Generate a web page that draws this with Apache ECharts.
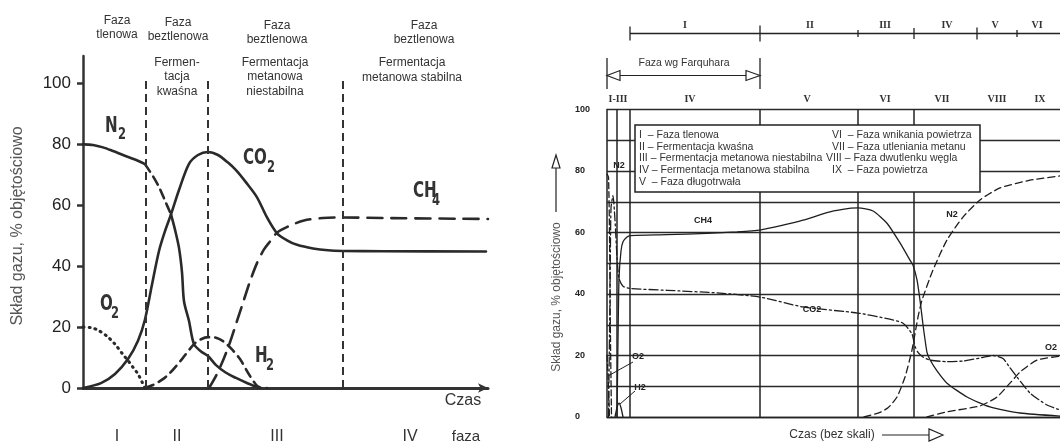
<!DOCTYPE html>
<html>
<head>
<meta charset="utf-8">
<script src="https://cdn.jsdelivr.net/npm/echarts@6/dist/echarts.min.js"></script>
<style>
  html, body { margin: 0; padding: 0; background: #fff; }
  #chart { width: 1060px; height: 445px; }
</style>
</head>
<body>
<div id="chart"></div>
<script>
// ===== lewy wykres (czas w jednostkach umownych) =====
var leftPhases = ["I", "II", "III", "IV"];
var leftBounds = [63, 125, 260];
var leftYTicks = [0, 20, 40, 60, 80, 100];
var leftTopLabels = ["Faza\ntlenowa", "Faza\nbeztlenowa", "Faza\nbeztlenowa", "Faza\nbeztlenowa"];
var leftSubLabels = ["Fermen-\ntacja\nkwaśna", "Fermentacja\nmetanowa\nniestabilna", "Fermentacja\nmetanowa stabilna"];

var n2A = [[0, 80], [10, 79.8], [20, 79], [30, 77.8], [40, 76.5], [52, 75], [62, 73.5]];
var n2B = [[62, 73.5], [70, 69.5], [76, 66], [82, 61.5], [88, 57]];
var n2C = [[88, 57], [92, 52], [96, 46], [99, 38], [101, 28.5], [106, 22], [111, 14.4], [118, 12],
  [125, 10.5], [133, 7.5], [143, 5], [153, 3.3], [165, 1.5], [177, 0]];
var co2L = [[0, 0], [18, 1.6], [32, 4.6], [45, 9.5], [55, 15.5], [62, 22.5], [69, 34], [76, 45], [82, 51.5],
  [88, 57], [96, 65], [106, 73.6], [115, 76.5], [125, 77.5], [135, 76.5], [145, 74], [153, 71.5],
  [163, 67.5], [174, 62.6], [184, 56], [194, 50.8], [204, 48.5], [214, 47], [230, 45.8], [245, 45.2],
  [260, 45], [300, 44.9], [403, 44.8]];
var ch4L = [[126, 0], [133, 4], [140, 9], [147, 15], [153, 21], [160, 28], [167, 35], [174, 41],
  [181, 45.5], [188, 48.5], [194, 51], [205, 53], [221, 55], [240, 55.8], [260, 56], [300, 55.8], [405, 55.5]];
var h2L = [[62, 0], [70, 1], [78, 2.5], [86, 4.6], [99, 9.5], [111, 14.4], [118, 16], [125, 16.7],
  [133, 16.5], [140, 15.4], [148, 13], [157, 9.5], [165, 5], [172, 1.5], [176, 0.3], [184, 0]];
var o2L = [[0, 20], [8, 19.8], [15, 19], [24, 17], [32, 14.4], [40, 11], [45, 9], [50, 6.8],
  [55, 4.6], [59, 2], [62, 0]];

// ===== prawy wykres (czas bez skali) =====
var rightBounds = [10, 23, 153, 251, 307];
var rightTopTicks = [23, 153, 251, 307, 370, 410];
var rightTopPhases = ["I", "II", "III", "IV", "V", "VI"];
var rightRowPhases = ["I-III", "IV", "V", "VI", "VII", "VIII", "IX"];
var legendLeft = ["I  – Faza tlenowa", "II – Fermentacja kwaśna", "III – Fermentacja metanowa niestabilna",
  "IV – Fermentacja metanowa stabilna", "V  – Faza długotrwała"];
var legendRight = ["VI  – Faza wnikania powietrza", "VII – Faza utleniania metanu",
  "VIII – Faza dwutlenku węgla", "IX  – Faza powietrza"];

var ch4R = [[10, 0], [11, 25], [12, 45], [14, 54], [16, 57], [20, 58.5], [23, 59], [60, 59.3], [100, 59.7],
  [130, 60.2], [153, 60.8], [175, 62.3], [196, 64], [223, 66.7], [244, 67.9], [251, 68], [266, 67],
  [280, 63], [293, 56.6], [303, 51], [306, 49.4], [310, 44.6], [313, 38], [316, 30], [320, 21],
  [323, 18.6], [330, 15], [340, 11], [360, 6.5], [383, 3.3], [413, 1.3], [453, 0.3]];
var co2R = [[1.5, 0], [3, 40], [4, 68], [6, 72], [8, 64], [10, 52], [12, 45], [16, 42.5], [23, 41.8],
  [60, 41.2], [113, 40.3], [153, 39], [196, 35.8], [251, 33.8], [280, 32], [296, 30.5], [305, 27],
  [308, 23], [311, 21], [316, 19.5], [323, 18.5], [340, 18], [356, 18.2], [375, 19.3], [386, 20],
  [396, 19], [403, 16], [410, 13], [423, 7.8], [440, 3.9], [453, 2.3]];
var n2R1 = [[0, 79], [1.5, 78], [2.5, 60], [3.5, 25], [4.5, 0]];
var n2R2 = [[257, 0], [273, 1.5], [281, 3], [290, 6.5], [298, 13], [305, 21.8], [311, 32.5], [315, 38],
  [326, 47.8], [340, 57.6], [356, 65], [373, 70.6], [393, 74.5], [423, 77], [453, 78.4]];
var o2R1 = [[0, 20], [1, 14], [2.5, 0]];
var o2R2 = [[320, 0], [340, 1.7], [373, 3.6], [390, 6.5], [403, 11], [413, 14.6], [430, 18.5], [453, 19.8]];
var h2R = [[8, 0], [10, 3], [12, 4.5], [14, 3], [16, 0]];

var SANS = "'Liberation Sans', Arial, sans-serif";
var NARROW = "'Liberation Sans Narrow', 'DejaVu Sans Condensed', sans-serif";
var SERIF = "'Liberation Serif', 'DejaVu Serif', serif";

function curve(idx, data, width, dash, color, smooth) {
  return {
    type: "line", xAxisIndex: idx, yAxisIndex: idx, data: data, symbol: "none",
    smooth: smooth === undefined ? 0.3 : smooth, silent: true, z: 3,
    lineStyle: { color: color || "#2a2a2a", width: width, type: dash || "solid", cap: "round" }
  };
}

function vlines(idx, xs, top, width, dash, color) {
  return {
    type: "line", xAxisIndex: idx, yAxisIndex: idx, data: [], silent: true,
    markLine: {
      silent: true, symbol: "none", animation: false, label: { show: false },
      lineStyle: { color: color, width: width, type: dash },
      data: xs.map(function (x) { return [{ coord: [x, 0] }, { coord: [x, top] }]; })
    }
  };
}

function txt(x, y, text, font, opts) {
  return {
    type: "text", x: x, y: y, silent: true,
    style: Object.assign({ text: text, font: font, fill: "#222", align: "center", verticalAlign: "middle" }, opts || {})
  };
}
function seg(x1, y1, x2, y2, w, color) {
  return { type: "line", silent: true, shape: { x1: x1, y1: y1, x2: x2, y2: y2 },
    style: { stroke: color || "#222", lineWidth: w || 1.2 } };
}
function tri(points) {
  return { type: "polygon", silent: true, shape: { points: points },
    style: { fill: "#fff", stroke: "#222", lineWidth: 1.2 } };
}

var graphics = [];
// lewy: napisy u góry
var topX = [117, 178, 277, 424], topY = [28, 30, 32.5, 32.5];
leftTopLabels.forEach(function (t, i) {
  graphics.push(txt(topX[i], topY[i], t, "12px " + SANS, { lineHeight: 14, fill: "#333" }));
});
var subX = [177, 275, 412], subY = [77, 77, 70];
leftSubLabels.forEach(function (t, i) {
  graphics.push(txt(subX[i], subY[i], t, "12px " + SANS, { lineHeight: 14.5, fill: "#333" }));
});
// lewy: fazy pod osią
var phX = [117, 177, 277, 410];
leftPhases.forEach(function (t, i) { graphics.push(txt(phX[i], 437, t, "16px " + SANS, { fill: "#333" })); });
graphics.push(txt(466, 437, "faza", "15px " + SANS, { fill: "#333" }));
graphics.push(txt(463, 401, "Czas", "16px " + SANS, { fill: "#333" }));
graphics.push(Object.assign(txt(18, 226, "Skład gazu, % objętościowo", "16px " + SANS, { fill: "#555" }), { rotation: Math.PI / 2 }));
// lewy: nazwy gazów (waskie, pogrubione)
var gasMain = [["N", 105, 127], ["CO", 243, 159], ["CH", 413, 192], ["O", 100, 305], ["H", 255, 357]];
var gasSub = [["2", 118, 135], ["2", 267, 168], ["4", 432, 201], ["2", 111, 314], ["2", 266, 366]];
gasMain.forEach(function (g) {
  graphics.push(Object.assign(txt(g[1], g[2], g[0], "bold 21px " + NARROW, { align: "left", fill: "#333" }), { scaleX: 0.8 }));
});
gasSub.forEach(function (g) {
  graphics.push(Object.assign(txt(g[1], g[2], g[0], "bold 16px " + NARROW, { align: "left", fill: "#333" }), { scaleX: 0.8 }));
});

// prawy: pasek faz u góry
graphics.push(seg(630, 33.5, 1060, 33.5, 1.3));
var tickH = [7, 8, 3.5, 5.5, 6, 3.5];
rightTopTicks.forEach(function (t, i) { graphics.push(seg(607 + t, 33.5 - tickH[i], 607 + t, 33.5 + tickH[i], 1.3)); });
var rtX = [685, 810, 885, 947, 995, 1037];
rightTopPhases.forEach(function (t, i) { graphics.push(txt(rtX[i], 25, t, "bold 10px " + SERIF, { fill: "#333" })); });
// Faza wg Farquhara
graphics.push(seg(607, 58, 607, 89, 1.3), seg(760, 58, 760, 89, 1.3), seg(620, 75.5, 746, 75.5, 1.2));
graphics.push(tri([[607, 75.5], [620, 70.5], [620, 80.5]]), tri([[760, 75.5], [746, 70.5], [746, 80.5]]));
graphics.push(txt(684, 63, "Faza wg Farquhara", "10.5px " + SANS, { fill: "#333" }));
var rrX = [618, 690, 807, 885, 942, 997, 1040];
rightRowPhases.forEach(function (t, i) { graphics.push(txt(rrX[i], 99, t, "bold 10px " + SERIF, { fill: "#333" })); });
// legenda w ramce
graphics.push({ type: "rect", silent: true, z: 100, shape: { x: 635, y: 125, width: 345, height: 67 },
  style: { fill: "#fff", stroke: "#222", lineWidth: 1.5 } });
legendLeft.forEach(function (t, i) {
  var e = txt(639, 135 + i * 11.7, t, "10.5px " + SANS, { align: "left", fill: "#333" }); e.z = 101; graphics.push(e);
});
var lrX = [832, 832, 826, 832];
legendRight.forEach(function (t, i) {
  var e = txt(lrX[i], 135 + i * 11.7, t, "10.5px " + SANS, { align: "left", fill: "#333" }); e.z = 101; graphics.push(e);
});
// prawy: tytuły osi ze strzałkami
graphics.push(Object.assign(txt(557, 297, "Skład gazu, % objętościowo", "12px " + SANS, { fill: "#555" }), { rotation: Math.PI / 2 }));
graphics.push(seg(556, 212, 556, 168, 1.2), tri([[556, 155], [552, 168], [560, 168]]));
graphics.push(txt(832, 435, "Czas (bez skali)", "12px " + SANS, { fill: "#333" }));
graphics.push(seg(882, 435, 929, 435, 1.2), tri([[943, 435], [929, 429], [929, 441]]));
// prawy: nazwy gazów
var rLab = [["N2", 619, 166], ["CH4", 703, 221], ["CO2", 812, 310], ["N2", 952, 215], ["O2", 1051, 348], ["O2", 638, 357], ["H2", 640, 388]];
rLab.forEach(function (g) { graphics.push(txt(g[1], g[2], g[0], "bold 9px " + SANS, { fill: "#222" })); });
graphics.push(seg(633, 362, 608, 376, 1), seg(635, 391, 620, 404, 1));

var chart = echarts.init(document.getElementById("chart"));
chart.setOption({
  animation: false,
  backgroundColor: "#fff",
  grid: [
    { left: 83, top: 56, width: 405, height: 332 },
    { left: 607, top: 109.5, width: 453, height: 307.5 }
  ],
  xAxis: [
    { gridIndex: 0, type: "value", min: 0, max: 405,
      axisLine: { show: true, symbol: ["none", "arrow"], symbolSize: [7, 10], lineStyle: { color: "#333", width: 3 } },
      axisTick: { show: false }, axisLabel: { show: false }, splitLine: { show: false } },
    { gridIndex: 1, type: "value", min: 0, max: 453,
      axisLine: { show: true, lineStyle: { color: "#222", width: 1.4 } },
      axisTick: { show: false }, axisLabel: { show: false }, splitLine: { show: false } }
  ],
  yAxis: [
    { gridIndex: 0, type: "value", min: 0, max: 109,
      axisLine: { show: true, lineStyle: { color: "#333", width: 2.5 } },
      axisTick: { show: true, length: 6, customValues: leftYTicks, lineStyle: { color: "#333", width: 2.5 } },
      axisLabel: { customValues: leftYTicks, margin: 12, color: "#222", fontSize: 17, fontFamily: SANS },
      splitLine: { show: false } },
    { gridIndex: 1, type: "value", min: 0, max: 100, interval: 10,
      axisLine: { show: true, lineStyle: { color: "#222", width: 1.5 } },
      axisTick: { show: false },
      axisLabel: { align: "left", margin: 32, color: "#222", fontSize: 9, fontWeight: "bold", fontFamily: SANS,
        formatter: function (v) { return v % 20 === 0 ? String(v) : ""; } },
      splitLine: { show: true, lineStyle: { color: "#2a2a2a", width: 1.3 } } }
  ],
  series: [
    vlines(0, leftBounds, 101, 2, [8, 5], "#333"),
    curve(0, n2A, 2.6),
    curve(0, n2B, 2.6, [9, 6]),
    curve(0, n2C, 2.6),
    curve(0, co2L, 2.6),
    curve(0, ch4L, 2.6, [15, 9]),
    curve(0, h2L, 2.6, [9, 6]),
    curve(0, o2L, 3, [1, 5]),
    vlines(1, rightBounds, 100, 1.5, "solid", "#222"),
    curve(1, ch4R, 1.3, "solid", "#1e1e1e", 0.2),
    curve(1, co2R, 1.3, [9, 3, 2, 3], "#1e1e1e", 0.2),
    curve(1, n2R1, 1.3, [6, 3], "#1e1e1e", 0.2),
    curve(1, n2R2, 1.3, [7, 4], "#1e1e1e", 0.2),
    curve(1, o2R1, 1.3, [6, 3], "#1e1e1e", 0.2),
    curve(1, o2R2, 1.3, [7, 4], "#1e1e1e", 0.2),
    curve(1, h2R, 1.3, "solid", "#1e1e1e", 0.2)
  ],
  graphic: graphics
});
</script>
</body>
</html>
